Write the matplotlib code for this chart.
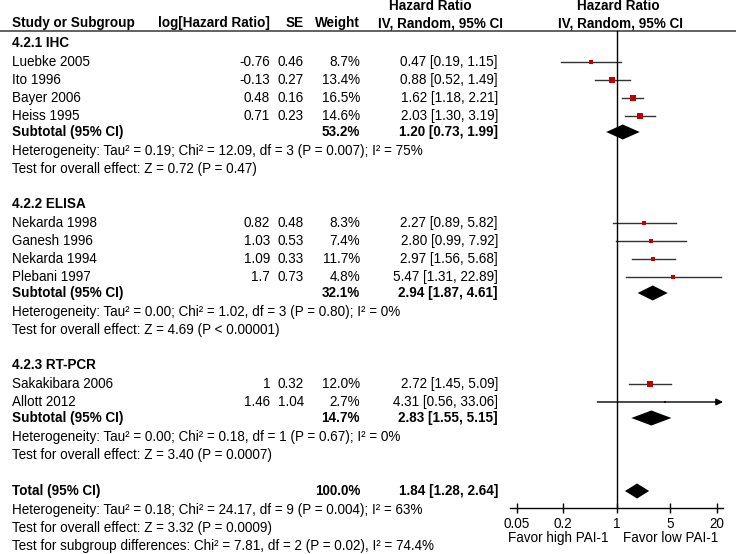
import numpy as np
import matplotlib
matplotlib.use("Agg")
import matplotlib.pyplot as plt
from matplotlib.patches import Polygon

plt.rcParams['font.family'] = ['Liberation Sans', 'DejaVu Sans']

# ---- data ----
group_names = ["4.2.1 IHC", "4.2.2 ELISA", "4.2.3 RT-PCR"]
group_of = [0, 0, 0, 0, 1, 1, 1, 1, 2, 2]
studies = ["Luebke 2005", "Ito 1996", "Bayer 2006", "Heiss 1995",
           "Nekarda 1998", "Ganesh 1996", "Nekarda 1994", "Plebani 1997",
           "Sakakibara 2006", "Allott 2012"]
log_hr = [-0.76, -0.13, 0.48, 0.71, 0.82, 1.03, 1.09, 1.7, 1, 1.46]
se = [0.46, 0.27, 0.16, 0.23, 0.48, 0.53, 0.33, 0.73, 0.32, 1.04]
weight = [8.7, 13.4, 16.5, 14.6, 8.3, 7.4, 11.7, 4.8, 12.0, 2.7]
hr = [0.47, 0.88, 1.62, 2.03, 2.27, 2.80, 2.97, 5.47, 2.72, 4.31]
hr_lo = [0.19, 0.52, 1.18, 1.30, 0.89, 0.99, 1.56, 1.31, 1.45, 0.56]
hr_hi = [1.15, 1.49, 2.21, 3.19, 5.82, 7.92, 5.68, 22.89, 5.09, 33.06]

sub_weight = [53.2, 32.1, 14.7]
sub_hr = [1.20, 2.94, 2.83]
sub_lo = [0.73, 1.87, 1.55]
sub_hi = [1.99, 4.61, 5.15]
sub_het = ["Heterogeneity: Tau² = 0.19; Chi² = 12.09, df = 3 (P = 0.007); I² = 75%",
           "Heterogeneity: Tau² = 0.00; Chi² = 1.02, df = 3 (P = 0.80); I² = 0%",
           "Heterogeneity: Tau² = 0.00; Chi² = 0.18, df = 1 (P = 0.67); I² = 0%"]
sub_test = ["Test for overall effect: Z = 0.72 (P = 0.47)",
            "Test for overall effect: Z = 4.69 (P < 0.00001)",
            "Test for overall effect: Z = 3.40 (P = 0.0007)"]

total_weight = 100.0
total_hr, total_lo, total_hi = 1.84, 1.28, 2.64
total_notes = ["Heterogeneity: Tau² = 0.18; Chi² = 24.17, df = 9 (P = 0.004); I² = 63%",
               "Test for overall effect: Z = 3.32 (P = 0.0009)",
               "Test for subgroup differences: Chi² = 7.81, df = 2 (P = 0.02), I² = 74.4%"]

xticks = [0.05, 0.2, 1, 5, 20]
xtick_labels = ["0.05", "0.2", "1", "5", "20"]

# ---- layout (pixel coordinates, y down) ----
W, H = 736, 554
FS = 9.75
X_NAME, X_LOG, X_SE, X_W, X_CI = 12, 270, 304, 360, 498
AX_L, AX_R = 510, 723
ONE_X, DEC = 616.7, 76.9
AXIS_Y = 508
RED = "#c00000"

fig = plt.figure(figsize=(W / 100, H / 100), dpi=100)
tax = fig.add_axes([0, 0, 1, 1])
tax.set_xlim(0, W)
tax.set_ylim(H, 0)
tax.axis("off")

fax = fig.add_axes([AX_L / W, 0, (AX_R - AX_L) / W, 1])
fax.patch.set_alpha(0)
fax.set_xscale("log")
fax.set_xlim(10 ** ((AX_L - ONE_X) / DEC), 10 ** ((AX_R - ONE_X) / DEC))
fax.set_ylim(H, 0)
for s in ["top", "left", "right"]:
    fax.spines[s].set_visible(False)
fax.spines["bottom"].set_position(("data", AXIS_Y))
fax.spines["bottom"].set_linewidth(1.0)
fax.set_yticks([])
fax.set_xticks(xticks, xtick_labels)
fax.xaxis.set_minor_locator(matplotlib.ticker.NullLocator())
fax.tick_params(axis="x", direction="inout", length=7.5, width=1.0, pad=2.5, labelsize=FS)


def txt(x, y, s, ha="left", bold=False):
    tax.text(x, y, s, ha=ha, va="center", fontsize=FS,
             fontweight="bold" if bold else "normal")


def diamond(y, c, lo, hi, h=7.5):
    fax.add_patch(Polygon([(lo, y), (c, y - h), (hi, y), (c, y + h)],
                          closed=True, color="black", lw=0))


# headers
txt(X_NAME, 23, "Study or Subgroup", bold=True)
txt(X_LOG, 23, "log[Hazard Ratio]", ha="right", bold=True)
txt(X_SE, 23, "SE", ha="right", bold=True)
txt(X_W, 23, "Weight", ha="right", bold=True)
txt(430, 6, "Hazard Ratio", ha="center", bold=True)
txt(440, 23, "IV, Random, 95% CI", ha="center", bold=True)
txt(618, 6, "Hazard Ratio", ha="center", bold=True)
txt(620, 23, "IV, Random, 95% CI", ha="center", bold=True)
tax.plot([0, W], [31, 31], color="#555555", lw=1.3)

y = 43
for g, gname in enumerate(group_names):
    txt(X_NAME, y, gname, bold=True)
    y += 19
    for i in [k for k in range(len(studies)) if group_of[k] == g]:
        txt(X_NAME, y, studies[i])
        txt(X_LOG, y, f"{log_hr[i]:g}", ha="right")
        txt(X_SE, y, f"{se[i]:.2f}", ha="right")
        txt(X_W, y, f"{weight[i]:.1f}%", ha="right")
        txt(X_CI, y, f"{hr[i]:.2f} [{hr_lo[i]:.2f}, {hr_hi[i]:.2f}]", ha="right")
        xmax = fax.get_xlim()[1]
        if hr_hi[i] > xmax:
            fax.annotate("", xy=(xmax, y), xytext=(hr_lo[i], y),
                         arrowprops=dict(arrowstyle="-|>", color="black", lw=1.0,
                                         mutation_scale=10, shrinkA=0, shrinkB=0))
        else:
            fax.plot([hr_lo[i], hr_hi[i]], [y, y], color="#333333", lw=1.0)
        fax.plot(hr[i], y, marker="s", color=RED, ms=1.05 * np.sqrt(weight[i]), mew=0)
        y += 18
    y -= 2
    txt(X_NAME, y, "Subtotal (95% CI)", bold=True)
    txt(X_W, y, f"{sub_weight[g]:.1f}%", ha="right", bold=True)
    txt(X_CI, y, f"{sub_hr[g]:.2f} [{sub_lo[g]:.2f}, {sub_hi[g]:.2f}]", ha="right", bold=True)
    diamond(y, sub_hr[g], sub_lo[g], sub_hi[g])
    y += 19
    txt(X_NAME, y, sub_het[g])
    y += 18
    txt(X_NAME, y, sub_test[g])
    y += 35

y += 1
txt(X_NAME, y, "Total (95% CI)", bold=True)
txt(X_W, y, f"{total_weight:.1f}%", ha="right", bold=True)
txt(X_CI, y, f"{total_hr:.2f} [{total_lo:.2f}, {total_hi:.2f}]", ha="right", bold=True)
diamond(y, total_hr, total_lo, total_hi)
y += 19
for note in total_notes:
    txt(X_NAME, y, note)
    y += 18

fax.plot([1, 1], [31, AXIS_Y], color="black", lw=1.0)

txt(609, 538, "Favor high PAI-1", ha="right")
txt(623, 538, "Favor low PAI-1")

fig.savefig("out.png", dpi=100)
